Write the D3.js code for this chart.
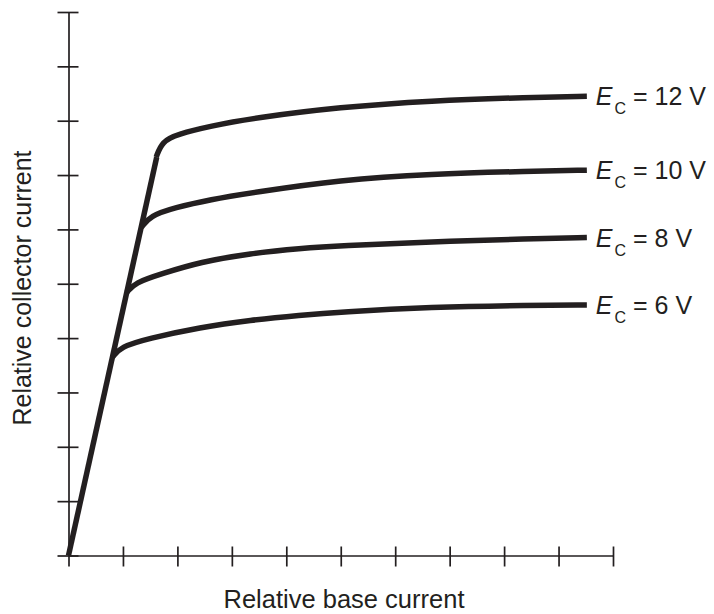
<!DOCTYPE html>
<html>
<head>
<meta charset="utf-8">
<script src="https://cdn.jsdelivr.net/npm/d3@7"></script>
<style>
  html, body { margin: 0; padding: 0; background: #fff; }
  svg { display: block; font-family: "Liberation Sans", Arial, Helvetica, sans-serif; }
</style>
</head>
<body>
<svg id="chart" width="714" height="614"></svg>
<script>
// ---- data (relative units) ----
const xTicks = [0, 1, 2, 3, 4, 5, 6, 7, 8, 9, 10];
const yTicks = [0, 1, 2, 3, 4, 5, 6, 7, 8, 9, 10];

const seriesNames = ["12", "10", "8", "6"];

// saturation line (common linear rise)
const riseX = [0, 1.62];
const riseY = [0, 7.33];

const curve12X = [1.61, 1.72, 2.00, 2.60, 3.40, 4.99, 6.64, 8.48, 9.52];
const curve12Y = [7.33, 7.62, 7.75, 7.90, 8.05, 8.25, 8.37, 8.43, 8.45];

const curve10X = [1.34, 1.50, 1.95, 2.60, 3.40, 4.99, 6.64, 8.48, 9.52];
const curve10Y = [6.04, 6.25, 6.40, 6.55, 6.68, 6.91, 7.02, 7.07, 7.09];

const curve8X = [1.07, 1.22, 1.70, 2.42, 3.34, 4.26, 4.99, 6.64, 8.48, 9.52];
const curve8Y = [4.84, 5.02, 5.18, 5.40, 5.56, 5.65, 5.70, 5.77, 5.83, 5.85];

const curve6X = [0.81, 0.96, 1.45, 2.42, 3.34, 4.26, 4.99, 6.64, 8.48, 9.52];
const curve6Y = [3.65, 3.84, 3.99, 4.20, 4.33, 4.42, 4.48, 4.57, 4.605, 4.61];

const xTitle = "Relative base current";
const yTitle = "Relative collector current";

// ---- drawing ----
const ink = "#231f20";
const svg = d3.select("#chart");

const x = d3.scaleLinear().domain([0, 10]).range([68.5, 613]);
const y = d3.scaleLinear().domain([0, 10]).range([555.5, 12]);

// x axis
const gx = svg.append("g")
  .attr("transform", `translate(0,${y(0)})`)
  .call(d3.axisBottom(x).tickValues(xTicks).tickFormat("").tickSizeOuter(0));
gx.select(".domain").attr("stroke", ink).attr("stroke-width", 1.7);
gx.selectAll(".tick line").attr("stroke", ink).attr("stroke-width", 1.7)
  .attr("y1", -9).attr("y2", 11);

// y axis
const gy = svg.append("g")
  .attr("transform", `translate(${x(0)},0)`)
  .call(d3.axisLeft(y).tickValues(yTicks).tickFormat("").tickSizeOuter(0));
gy.select(".domain").attr("stroke", ink).attr("stroke-width", 1.7);
gy.selectAll(".tick line").attr("stroke", ink).attr("stroke-width", 1.7)
  .attr("x1", -11).attr("x2", 10);

// lines
const lineGen = d3.line().x(d => x(d[0])).y(d => y(d[1])).curve(d3.curveBasis);
const straight = d3.line().x(d => x(d[0])).y(d => y(d[1]));

svg.append("path")
  .datum(d3.zip(riseX, riseY))
  .attr("d", straight)
  .attr("fill", "none").attr("stroke", ink).attr("stroke-width", 5.5)
  .attr("stroke-linecap", "butt");

const curves = [
  { name: seriesNames[0], xs: curve12X, ys: curve12Y },
  { name: seriesNames[1], xs: curve10X, ys: curve10Y },
  { name: seriesNames[2], xs: curve8X, ys: curve8Y },
  { name: seriesNames[3], xs: curve6X, ys: curve6Y }
];

curves.forEach(c => {
  const pts = d3.zip(c.xs, c.ys);
  svg.append("path")
    .datum(pts)
    .attr("d", lineGen)
    .attr("fill", "none").attr("stroke", ink).attr("stroke-width", 5.5)
    .attr("stroke-linejoin", "round").attr("stroke-linecap", "butt");

  const last = pts[pts.length - 1];
  const t = svg.append("text")
    .attr("x", x(last[0]) + 9)
    .attr("y", y(last[1]) + 9)
    .attr("fill", ink)
    .attr("font-size", 25);
  t.append("tspan").attr("font-style", "italic").text("E");
  t.append("tspan").attr("font-size", 16).attr("dy", 9).attr("dx", 2).text("C");
  t.append("tspan").attr("dy", -9).text(` = ${c.name} V`);
});

// axis titles
svg.append("text")
  .attr("x", 344).attr("y", 608)
  .attr("text-anchor", "middle")
  .attr("font-size", 25.5).attr("fill", ink)
  .text(xTitle);

svg.append("text")
  .attr("transform", "translate(31,288) rotate(-90)")
  .attr("text-anchor", "middle")
  .attr("font-size", 25).attr("fill", ink)
  .text(yTitle);
</script>
</body>
</html>
